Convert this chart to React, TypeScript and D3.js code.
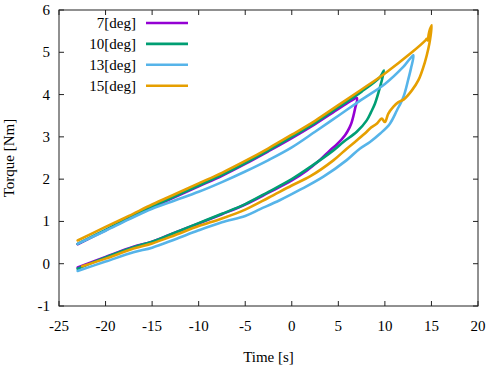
import React from "react";
import * as d3 from "d3";

const xTicks = [-25, -20, -15, -10, -5, 0, 5, 10, 15, 20];
const yTicks = [-1, 0, 1, 2, 3, 4, 5, 6];
const seriesLabels = ["7[deg]", "10[deg]", "13[deg]", "15[deg]"];
const seriesColors = ["#9400d3", "#009e73", "#56b4e9", "#e69f00"];

// 7 deg: lower branch then upper branch back
const deg7Time = [-23, -20, -17, -15, -12.5, -10, -7.5, -5, -2.5, 0, 1.6, 3, 4.1, 4.83, 5.72, 6.2, 6.44, 6.8, 7.0,
  6.5, 5, 2.5, 0, -2.5, -5, -7.5, -10, -12.5, -15, -17.5, -20, -23];
const deg7Torque = [-0.09, 0.16, 0.4, 0.52, 0.74, 0.95, 1.17, 1.4, 1.68, 1.97, 2.2, 2.45, 2.68, 2.82, 3.04, 3.22, 3.35, 3.67, 3.92,
  3.87, 3.66, 3.3, 2.97, 2.66, 2.36, 2.08, 1.83, 1.58, 1.33, 1.07, 0.79, 0.46];

// 10 deg
const deg10Time = [-23, -20, -17, -15, -12.5, -10, -7.5, -5, -2.5, 0, 2, 4.47, 5.54, 6.98, 8.05, 8.5, 8.94, 9.48, 9.9,
  9.5, 7.5, 5, 2.5, 0, -2.5, -5, -7.5, -10, -12.5, -15, -17.5, -20, -23];
const deg10Torque = [-0.12, 0.15, 0.39, 0.52, 0.74, 0.96, 1.18, 1.41, 1.7, 2.0, 2.29, 2.68, 2.88, 3.12, 3.39, 3.58, 3.79, 4.18, 4.57,
  4.42, 4.07, 3.7, 3.33, 3.0, 2.68, 2.38, 2.1, 1.85, 1.6, 1.35, 1.08, 0.8, 0.47];

// 13 deg
const deg13Time = [-23, -20, -17, -15, -12.5, -10, -7.5, -5, -3.4, -1.3, 0.9, 3.4, 5.9, 7.3, 8.4, 9.5, 10.5, 11.3, 12.0, 12.5, 12.8, 13.06,
  12, 10, 7.5, 5, 2.5, 0, -2.5, -5, -7.5, -10, -12.5, -15, -17.5, -20, -23];
const deg13Torque = [-0.17, 0.05, 0.27, 0.38, 0.58, 0.79, 0.98, 1.13, 1.29, 1.5, 1.75, 2.06, 2.45, 2.72, 2.88, 3.08, 3.3, 3.63, 3.95, 4.35, 4.62, 4.93,
  4.66, 4.25, 3.88, 3.5, 3.12, 2.75, 2.45, 2.18, 1.93, 1.7, 1.5, 1.3, 1.05, 0.78, 0.47];

// 15 deg
const deg15Time = [-22.5, -20, -17, -15, -12.5, -10, -7.5, -5, -2.5, 0, 2, 4.5, 5.9, 7, 8.05, 8.4, 9.12, 9.66, 10.0, 10.37, 10.9, 11.45, 12.0, 12.9, 13.6, 14.3, 14.67, 14.85, 15.03,
  14.85, 14.7, 14.6, 14.5, 14.3, 12.9, 10, 7.5, 5, 2.5, 0, -2.5, -5, -7.5, -10, -12.5, -15, -17.5, -20, -23];
const deg15Torque = [-0.06, 0.12, 0.36, 0.48, 0.68, 0.89, 1.07, 1.28, 1.56, 1.85, 2.07, 2.45, 2.72, 2.92, 3.12, 3.2, 3.31, 3.43, 3.35, 3.55, 3.71, 3.82, 3.88, 4.1, 4.34, 4.77, 5.09, 5.3, 5.64,
  5.55, 5.42, 5.28, 5.32, 5.27, 5.0, 4.5, 4.12, 3.75, 3.38, 3.05, 2.73, 2.43, 2.15, 1.9, 1.65, 1.4, 1.13, 0.87, 0.55];

const seriesTimes = [deg7Time, deg10Time, deg13Time, deg15Time];
const seriesTorques = [deg7Torque, deg10Torque, deg13Torque, deg15Torque];

const W = 488;
const H = 372;
const left = 59;
const right = 478;
const top = 10;
const bottom = 306;
const font = "Liberation Serif";

export default function App() {
  const x = d3.scaleLinear().domain([-25, 20]).range([left, right]);
  const y = d3.scaleLinear().domain([-1, 6]).range([bottom, top]);
  const line = d3
    .line<[number, number]>()
    .x((d) => x(d[0]))
    .y((d) => y(d[1]))
    .curve(d3.curveCatmullRom.alpha(0.5));

  const tick = 5;
  return (
    <svg width={W} height={H} fontFamily={font} style={{ position: "absolute", left: 0, top: 0 }}>
      <rect x={0} y={0} width={W} height={H} fill="#fff" />
      {seriesTimes.map((tArr, i) => {
        const pts = tArr.map((t, j) => [t, seriesTorques[i][j]] as [number, number]);
        return (
          <path
            key={i}
            d={line(pts) || ""}
            fill="none"
            stroke={seriesColors[i]}
            strokeWidth={2.6}
            strokeLinejoin="round"
            strokeLinecap="round"
          />
        );
      })}
      <rect x={left} y={top} width={right - left} height={bottom - top} fill="none" stroke="#222" strokeWidth={1} />
      {xTicks.map((t) => (
        <g key={"x" + t}>
          <line x1={x(t)} x2={x(t)} y1={bottom} y2={bottom - tick} stroke="#222" />
          <line x1={x(t)} x2={x(t)} y1={top} y2={top + tick} stroke="#222" />
          <text x={x(t)} y={331} textAnchor="middle" fontFamily={font} fontSize={15} fill="#000">
            {t}
          </text>
        </g>
      ))}
      {yTicks.map((v) => (
        <g key={"y" + v}>
          <line x1={left} x2={left + tick} y1={y(v)} y2={y(v)} stroke="#222" />
          <line x1={right} x2={right - tick} y1={y(v)} y2={y(v)} stroke="#222" />
          <text x={50} y={y(v) + 5} textAnchor="end" fontFamily={font} fontSize={15} fill="#000">
            {v}
          </text>
        </g>
      ))}
      <text x={(left + right) / 2} y={362} textAnchor="middle" fontFamily={font} fontSize={15} fill="#000">
        Time [s]
      </text>
      <text
        transform={`translate(14, ${(top + bottom) / 2}) rotate(-90)`}
        textAnchor="middle"
        fontFamily={font}
        fontSize={15}
        fill="#000"
      >
        Torque [Nm]
      </text>
      {seriesLabels.map((lab, i) => {
        const ry = 23 + i * 20.9;
        return (
          <g key={lab}>
            <text x={136} y={ry + 5} textAnchor="end" fontFamily={font} fontSize={15} fill="#000">
              {lab}
            </text>
            <line x1={146} x2={188} y1={ry} y2={ry} stroke={seriesColors[i]} strokeWidth={2.6} />
          </g>
        );
      })}
    </svg>
  );
}
